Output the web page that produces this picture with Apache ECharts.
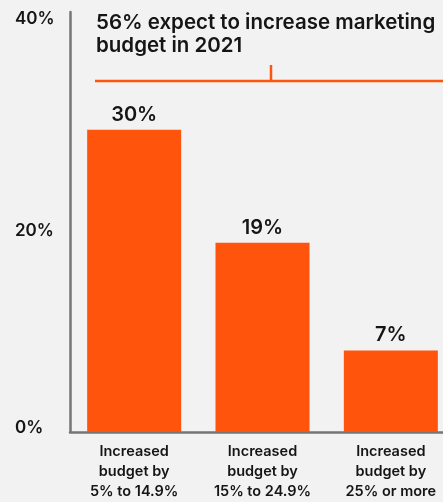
<!DOCTYPE html>
<html>
<head>
<meta charset="utf-8">
<script src="https://cdn.jsdelivr.net/npm/echarts@6/dist/echarts.min.js"></script>
<style>
html,body{margin:0;padding:0;background:#f2f2f2;}
#c{width:443px;height:502px;}
</style>
</head>
<body>
<div id="c"></div>
<script>
const categories = [
  'Increased\nbudget by\n5% to 14.9%',
  'Increased\nbudget by\n15% to 24.9%',
  'Increased\nbudget by\n25% or more'
];
const values = [30, 18.8, 8.1];
const valueLabels = ['30%', '19%', '7%'];
const yTicks = [0, 20, 40];
const yTickLabels = ['0%', '20%', '40%'];
const headline = '56% expect to increase marketing\nbudget in 2021';

const FONT = 'Inter, "Noto Sans", sans-serif';
const ORANGE = '#ff540b';
const INK = '#151515';

const chart = echarts.init(document.getElementById('c'), null, {renderer: 'canvas'});
chart.setOption({
  backgroundColor: '#f2f2f2',
  animation: false,
  title: {
    text: headline,
    left: 91,
    top: 6,
    textStyle: {fontFamily: FONT, fontSize: 20.5, fontWeight: 600, color: INK, lineHeight: 23}
  },
  grid: {left: 70, width: 385, top: 12, bottom: 70, containLabel: false, outerBoundsMode: 'none'},
  xAxis: {
    type: 'category',
    data: categories,
    axisLine: {show: true, lineStyle: {color: '#767676', width: 2.5}},
    axisTick: {show: false},
    axisLabel: {
      fontFamily: FONT, fontSize: 14.5, fontWeight: 600, color: INK,
      lineHeight: 20, margin: 10, interval: 0
    }
  },
  yAxis: {
    type: 'value',
    min: 0,
    max: 41.7,
    interval: 20,
    splitLine: {show: false},
    axisTick: {show: false},
    axisLine: {show: true, lineStyle: {color: '#767676', width: 2.5}},
    axisLabel: {
      showMaxLabel: false,
      align: 'left',
      margin: 55,
      fontFamily: FONT, fontSize: 17, fontWeight: 600, color: INK,
      formatter: function (v) {
        const i = yTicks.indexOf(v);
        if (i < 0) return '';
        if (i === yTicks.length - 1) return '{t|' + yTickLabels[i] + '}';
        if (i === 0) return '{b|' + yTickLabels[i] + '}';
        return '{m|' + yTickLabels[i] + '}';
      },
      rich: {
        t: {fontFamily: FONT, fontSize: 17, fontWeight: 600, color: INK, padding: [0, 0, 20, 0]},
        m: {fontFamily: FONT, fontSize: 17, fontWeight: 600, color: INK},
        b: {fontFamily: FONT, fontSize: 17, fontWeight: 600, color: INK, padding: [0, 0, 8, 0]}
      }
    }
  },
  series: [{
    type: 'bar',
    data: values,
    barWidth: 94,
    itemStyle: {color: ORANGE},
    label: {
      show: true,
      position: 'top',
      distance: 5,
      fontFamily: FONT, fontSize: 20, fontWeight: 600, color: INK,
      formatter: function (p) { return valueLabels[p.dataIndex]; }
    }
  }],
  graphic: [
    {type: 'line', shape: {x1: 95, y1: 81, x2: 443, y2: 81}, style: {stroke: ORANGE, lineWidth: 2.5}},
    {type: 'line', shape: {x1: 271, y1: 65, x2: 271, y2: 81}, style: {stroke: ORANGE, lineWidth: 2.5}}
  ]
});
</script>
</body>
</html>
